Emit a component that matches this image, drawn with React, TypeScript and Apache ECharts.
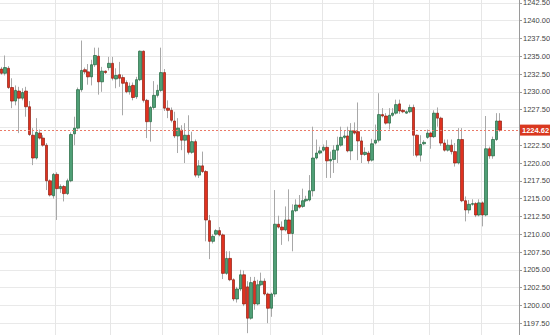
import React, { useEffect, useRef } from "react";
import * as echarts from "echarts";

// bar numbers (150 slots, last ones empty on the right side)
const categories: string[] = Array.from({ length: 150 }, (_, i) => String(i + 1));

const opens = [
  1233.2, 1232.6, 1233.3, 1230.6, 1228.7, 1230.1, 1229.1, 1230.1, 1227.9, 1223.9,
  1220.7, 1224.2, 1223.5, 1222.5, 1217.5, 1215.4, 1218.4, 1216.4, 1216.7, 1215.7,
  1217.5, 1224.1, 1224.9, 1230.3, 1233.1, 1232.8, 1232.1, 1233.8, 1235.0, 1231.4,
  1232.9, 1233.4, 1234.0, 1231.8, 1232.4, 1232.0, 1231.3, 1230.0, 1230.9, 1229.3,
  1231.7, 1235.7, 1228.8, 1225.8, 1227.8, 1229.5, 1230.2, 1232.7, 1227.7, 1227.4,
  1225.9, 1223.8, 1224.6, 1223.2, 1223.9, 1221.5, 1223.0, 1218.3, 1219.6, 1218.8,
  1211.9, 1209.0, 1210.0, 1210.5, 1209.9, 1204.5, 1206.6, 1203.6, 1200.9, 1202.3,
  1204.3, 1202.6, 1198.2, 1203.4, 1200.2, 1202.9, 1203.4, 1201.6, 1199.6, 1201.6,
  1211.4, 1211.0, 1210.6, 1212.0, 1210.1, 1213.3, 1214.1, 1213.9, 1214.7, 1214.8,
  1216.1, 1220.7, 1221.4, 1221.8, 1222.2, 1220.3, 1220.5, 1221.8, 1222.5, 1223.6,
  1223.8, 1221.7, 1224.5, 1224.4, 1223.1, 1221.2, 1221.4, 1220.4, 1222.8, 1223.2,
  1226.8, 1226.6, 1225.6, 1226.7, 1227.0, 1228.3, 1227.4, 1227.0, 1227.2, 1227.8,
  1223.9, 1221.1, 1222.7, 1223.6, 1224.2, 1223.7, 1227.0, 1226.3, 1222.8, 1221.8,
  1222.5, 1221.6, 1220.0, 1223.3, 1214.7, 1213.4, 1214.2, 1214.3, 1212.7, 1214.4,
  1212.7, 1222.0, 1221.0, 1223.3, 1225.9,
];

const closes = [
  1232.6, 1233.4, 1230.6, 1228.7, 1230.2, 1229.1, 1229.9, 1227.9, 1224.0, 1220.7,
  1224.3, 1223.5, 1222.5, 1217.5, 1215.5, 1218.4, 1216.4, 1216.7, 1215.7, 1217.5,
  1224.0, 1224.9, 1230.3, 1233.0, 1232.8, 1232.1, 1233.8, 1235.1, 1231.4, 1232.9,
  1232.7, 1234.0, 1231.9, 1232.3, 1231.9, 1231.2, 1230.0, 1230.8, 1229.2, 1231.7,
  1235.7, 1228.8, 1225.8, 1227.8, 1229.5, 1230.2, 1232.7, 1227.7, 1227.4, 1226.0,
  1223.8, 1224.9, 1223.2, 1223.9, 1221.5, 1223.0, 1218.3, 1219.6, 1218.8, 1212.0,
  1209.0, 1209.7, 1210.5, 1209.9, 1204.5, 1206.6, 1203.6, 1200.9, 1202.3, 1204.3,
  1200.2, 1198.2, 1203.2, 1200.2, 1202.9, 1203.4, 1201.6, 1199.6, 1201.6, 1211.4,
  1211.0, 1210.6, 1212.0, 1210.1, 1213.3, 1214.1, 1213.8, 1214.7, 1214.9, 1216.1,
  1220.7, 1221.4, 1221.7, 1222.2, 1220.3, 1220.5, 1221.8, 1222.5, 1223.6, 1223.8,
  1221.7, 1224.5, 1224.2, 1223.1, 1221.2, 1221.5, 1220.3, 1222.7, 1223.2, 1226.8,
  1226.6, 1225.6, 1226.7, 1227.0, 1228.2, 1227.3, 1227.2, 1227.2, 1227.8, 1223.9,
  1221.1, 1222.6, 1222.9, 1224.2, 1223.7, 1227.0, 1226.3, 1222.8, 1221.8, 1222.5,
  1221.6, 1220.0, 1223.3, 1214.7, 1213.4, 1214.2, 1214.3, 1212.7, 1214.4, 1212.7,
  1222.0, 1221.0, 1223.3, 1225.9, 1224.62,
];

const highs = [
  1233.5, 1235.1, 1233.6, 1231.9, 1230.9, 1230.7, 1230.5, 1230.7, 1228.7, 1224.9,
  1226.3, 1224.7, 1223.9, 1222.8, 1217.7, 1218.6, 1218.7, 1217.0, 1216.9, 1217.8,
  1224.3, 1226.5, 1230.6, 1237.2, 1233.4, 1233.9, 1234.5, 1236.2, 1236.2, 1233.5,
  1233.0, 1234.9, 1234.9, 1233.3, 1234.2, 1232.4, 1231.6, 1231.3, 1231.3, 1232.1,
  1235.8, 1235.8, 1229.0, 1228.0, 1231.5, 1231.0, 1236.2, 1233.2, 1228.8, 1227.8,
  1227.2, 1226.3, 1225.3, 1225.6, 1226.7, 1224.4, 1223.3, 1220.4, 1221.6, 1219.0,
  1212.7, 1210.0, 1210.7, 1211.0, 1210.1, 1207.6, 1207.6, 1203.8, 1202.6, 1205.0,
  1204.9, 1203.4, 1204.0, 1204.0, 1203.6, 1204.6, 1203.8, 1201.8, 1201.8, 1216.2,
  1212.6, 1211.8, 1213.9, 1216.3, 1214.2, 1214.9, 1215.5, 1216.4, 1215.4, 1218.3,
  1225.1, 1223.3, 1222.3, 1222.6, 1223.2, 1221.6, 1222.5, 1223.7, 1225.1, 1224.5,
  1225.1, 1225.6, 1225.7, 1228.5, 1223.7, 1222.2, 1221.7, 1223.4, 1225.4, 1229.8,
  1227.7, 1227.0, 1227.7, 1227.7, 1228.9, 1228.9, 1227.6, 1227.4, 1228.2, 1228.2,
  1224.0, 1223.9, 1223.2, 1224.7, 1224.4, 1227.4, 1227.8, 1226.5, 1223.3, 1223.3,
  1223.3, 1222.8, 1224.9, 1224.9, 1215.3, 1214.8, 1214.9, 1214.5, 1214.9, 1214.6,
  1226.6, 1222.3, 1223.7, 1227.0, 1227.0,
];

const lows = [
  1232.4, 1232.3, 1230.4, 1227.7, 1228.1, 1224.2, 1228.8, 1226.5, 1223.8, 1219.7,
  1220.5, 1223.3, 1222.3, 1216.2, 1215.3, 1215.0, 1212.0, 1215.8, 1214.6, 1215.5,
  1217.3, 1222.5, 1224.7, 1230.0, 1232.5, 1231.0, 1230.9, 1233.5, 1229.6, 1230.0,
  1232.5, 1233.0, 1231.6, 1230.5, 1230.7, 1226.7, 1229.8, 1229.6, 1228.8, 1229.0,
  1231.5, 1228.5, 1223.5, 1223.0, 1227.5, 1229.2, 1230.0, 1227.3, 1226.3, 1225.7,
  1223.5, 1221.4, 1221.8, 1220.0, 1221.2, 1221.3, 1218.0, 1217.9, 1218.6, 1209.0,
  1206.5, 1208.7, 1209.8, 1209.7, 1203.7, 1204.3, 1203.4, 1200.6, 1200.4, 1202.0,
  1199.9, 1196.1, 1198.0, 1199.4, 1200.0, 1202.7, 1201.4, 1197.5, 1198.4, 1201.2,
  1210.8, 1208.5, 1210.4, 1209.0, 1207.6, 1213.1, 1213.6, 1213.7, 1214.5, 1214.6,
  1215.3, 1220.5, 1221.2, 1221.6, 1217.9, 1217.9, 1218.6, 1220.0, 1222.3, 1223.4,
  1221.5, 1220.4, 1224.0, 1220.4, 1220.0, 1221.0, 1219.9, 1220.2, 1222.6, 1222.9,
  1226.4, 1225.4, 1224.7, 1226.5, 1226.8, 1226.9, 1227.0, 1226.9, 1227.0, 1221.0,
  1220.8, 1220.2, 1222.5, 1223.4, 1222.0, 1223.5, 1225.1, 1222.4, 1221.6, 1221.6,
  1221.2, 1219.5, 1219.8, 1214.5, 1211.8, 1212.9, 1214.0, 1212.4, 1212.5, 1211.1,
  1212.5, 1220.6, 1220.6, 1223.1, 1224.4,
];

// category indices where vertical grid lines fall
const gridLineBars = [16, 32, 47, 63, 78, 93, 108, 124, 139];

// visible price range of the labelled axis
const labelMin = 1197.5;
const labelMax = 1242.5;

const lastPrice = closes[closes.length - 1];

export default function App() {
  const ref = useRef<HTMLDivElement>(null);

  useEffect(() => {
    document.body.style.margin = "0";
    if (!ref.current) return;
    const chart = echarts.init(ref.current, undefined, { renderer: "svg" });

    const wickData = opens.map((o, i) => [o, closes[i], lows[i], highs[i]]);
    const bodyData = opens.map((o, i) => [
      o,
      closes[i],
      Math.min(o, closes[i]),
      Math.max(o, closes[i]),
    ]);

    const priceLineStyle = { color: "#ea7a68", type: [2, 2], width: 1, opacity: 1 };

    chart.setOption({
      animation: false,
      backgroundColor: "#ffffff",
      grid: {
        left: 0,
        right: 31,
        top: -15,
        bottom: -6,
        containLabel: false,
        outerBoundsMode: "none",
      },
      xAxis: {
        type: "category",
        data: categories,
        boundaryGap: true,
        axisLine: { show: false },
        axisTick: { show: false },
        axisLabel: { show: false },
        splitLine: {
          show: true,
          interval: (idx: number) => gridLineBars.includes(idx),
          lineStyle: { color: "#e6e6e6", width: 1 },
        },
      },
      yAxis: {
        type: "value",
        position: "right",
        min: 1195,
        max: 1245,
        interval: 2.5,
        axisLine: { show: true, lineStyle: { color: "#9a9a9a", width: 1 } },
        axisTick: { show: true, length: 3, lineStyle: { color: "#9a9a9a" } },
        axisLabel: {
          show: true,
          margin: 4,
          fontSize: 7.5,
          color: "#444444",
          fontFamily: "Liberation Sans, Arial, sans-serif",
          formatter: (v: number) =>
            v < labelMin - 0.01 || v > labelMax + 0.01 ? "" : v.toFixed(2),
        },
        splitLine: { show: true, lineStyle: { color: "#e9e9e9", width: 1 } },
      },
      series: [
        {
          type: "candlestick",
          name: "wicks",
          data: wickData,
          barWidth: 1,
          silent: true,
          itemStyle: {
            color: "#a8a8a8",
            color0: "#a8a8a8",
            borderColor: "#a8a8a8",
            borderColor0: "#a8a8a8",
            borderColorDoji: "#a8a8a8",
            borderWidth: 1,
          },
        },
        {
          type: "candlestick",
          name: "bodies",
          data: bodyData,
          barWidth: 3,
          silent: true,
          itemStyle: {
            color: "#4f9f76",
            color0: "#e0311f",
            borderColor: "#21673f",
            borderColor0: "#8f1c10",
            borderColorDoji: "#21673f",
            borderWidth: 0.7,
          },
          markLine: {
            silent: true,
            symbol: ["none", "none"],
            lineStyle: priceLineStyle,
            data: [{ yAxis: lastPrice, lineStyle: priceLineStyle }],
            label: {
              show: true,
              position: "end",
              distance: 1,
              formatter: lastPrice.toFixed(2),
              backgroundColor: "#d9381f",
              color: "#ffffff",
              fontWeight: "bold",
              fontSize: 7.5,
              fontFamily: "Liberation Sans, Arial, sans-serif",
              padding: [2, 2, 1, 2],
            },
          },
        },
      ],
    });

    return () => chart.dispose();
  }, []);

  return (
    <div
      ref={ref}
      style={{ position: "fixed", left: 0, top: 0, width: 550, height: 335 }}
    />
  );
}
